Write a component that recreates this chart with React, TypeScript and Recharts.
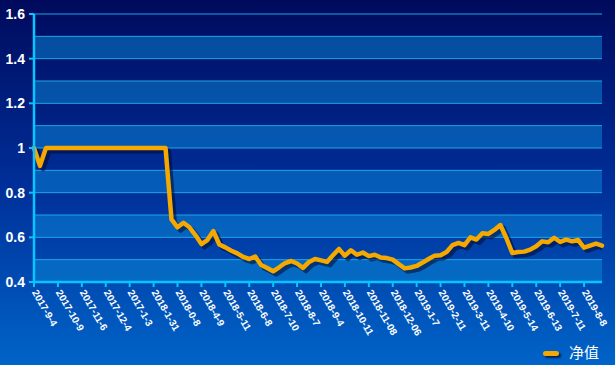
import { LineChart, Line, XAxis, YAxis, ReferenceLine, ReferenceArea } from 'recharts';

// tick labels as printed on the original chart (typos kept)
const dateLabels = [
  '2017-9-4', '2017-10-9', '2017-11-6', '2017-12-4', '2017-1-3', '2018-1-31',
  '2018-0-8', '2018-4-9', '2018-5-11', '2018-6-8', '2018-7-10', '2018-8-7',
  '2018-9-4', '2018-10-11', '2018-11-08', '2018-12-06', '2019-1-7', '2019-2-11',
  '2019-3-11', '2019-4-10', '2019-5-14', '2019-6-13', '2019-7-11', '2019-8-8',
];

// net value, one reading every ~quarter of a label interval
const netValues = [
  1.0, 0.92, 1.0, 1.0, 1.0, 1.0, 1.0, 1.0, 1.0, 1.0,
  1.0, 1.0, 1.0, 1.0, 1.0, 1.0, 1.0, 1.0, 1.0, 1.0,
  1.0, 1.0, 1.0, 0.68, 0.645, 0.665, 0.645, 0.61, 0.57, 0.588,
  0.628, 0.568, 0.555, 0.54, 0.528, 0.512, 0.503, 0.514, 0.476, 0.463,
  0.448, 0.466, 0.485, 0.494, 0.483, 0.463, 0.49, 0.503, 0.497, 0.49,
  0.52, 0.548, 0.518, 0.542, 0.522, 0.532, 0.516, 0.522, 0.51, 0.507,
  0.5, 0.48, 0.461, 0.465, 0.472, 0.487, 0.503, 0.518, 0.52, 0.534,
  0.565, 0.575, 0.565, 0.6, 0.59, 0.618, 0.615, 0.633, 0.655, 0.597,
  0.53, 0.534, 0.536, 0.545, 0.56, 0.582, 0.578, 0.598, 0.579, 0.59,
  0.582, 0.588, 0.554, 0.563, 0.572, 0.563,
];

const yTicks = [0.4, 0.6, 0.8, 1.0, 1.2, 1.4, 1.6];
const gridValues = [0.5, 0.6, 0.7, 0.8, 0.9, 1.0, 1.1, 1.2, 1.3, 1.4, 1.5, 1.6];
const lightBands = [[0.4, 0.5], [0.6, 0.7], [0.8, 0.9], [1.0, 1.1], [1.2, 1.3], [1.4, 1.5]];

const POINTS_PER_LABEL = 4;
const xTicks = dateLabels.map((_, i) => i * POINTS_PER_LABEL);
const X_MAX = netValues.length - 1;

const data = netValues.map((v, i) => ({ idx: i, value: v }));

// the shadow copy is drawn on hidden axes shifted by ~3px right/down
const SHADOW_DX = 0.5; // in index units (~3px)
const SHADOW_DY = 0.013; // in value units (~3px)

const CYAN = '#08c4ff';
const GRID = '#1ea6e6';
const ORANGE = '#f4a800';

function DateTick(props: any) {
  const { x, y, payload } = props;
  const label = dateLabels[Math.round(payload.value / POINTS_PER_LABEL)];
  return (
    <text
      x={x}
      y={y}
      transform={`rotate(60 ${x} ${y})`}
      fill="#ffffff"
      fontSize={10}
      fontWeight="bold"
      fontFamily="'Liberation Sans', Arial, sans-serif"
      textAnchor="start"
      dominantBaseline="middle"
    >
      {label}
    </text>
  );
}

export default function App() {
  return (
    <div
      style={{
        position: 'absolute',
        left: 0,
        top: 0,
        width: 615,
        height: 365,
        overflow: 'hidden',
        background: 'linear-gradient(to bottom, #000a5c 0%, #002e98 50%, #0064c8 100%)',
      }}
    >
      <LineChart width={615} height={365} data={data} margin={{ top: 14, right: 13, left: 0, bottom: 0 }}>
        {lightBands.map(([y1, y2]) => (
          <ReferenceArea key={y1} y1={y1} y2={y2} fill="#0a8ad8" fillOpacity={0.5} stroke="none" ifOverflow="visible" />
        ))}
        {gridValues.map((v) => (
          <ReferenceLine key={v} y={v} stroke={GRID} strokeWidth={1} ifOverflow="visible" />
        ))}
        <XAxis
          dataKey="idx"
          type="number"
          domain={[0, X_MAX]}
          ticks={xTicks}
          interval={0}
          height={83}
          axisLine={{ stroke: CYAN, strokeWidth: 2.5 }}
          tickLine={{ stroke: CYAN, strokeWidth: 2 }}
          tickSize={5}
          tickMargin={4}
          tick={<DateTick />}
        />
        <XAxis
          xAxisId="shadow"
          dataKey="idx"
          type="number"
          domain={[-SHADOW_DX, X_MAX - SHADOW_DX]}
          allowDataOverflow
          hide
        />
        <YAxis
          domain={[0.4, 1.6]}
          ticks={yTicks}
          interval={0}
          width={34}
          axisLine={{ stroke: CYAN, strokeWidth: 2.5 }}
          tickLine={{ stroke: CYAN, strokeWidth: 2 }}
          tickSize={5}
          tickMargin={4}
          tickFormatter={(v: number) => String(Math.round(v * 10) / 10)}
          tick={{ fill: '#ffffff', fontSize: 14, fontWeight: 'bold', fontFamily: "'Liberation Sans', Arial, sans-serif" }}
        />
        <YAxis yAxisId="shadow" domain={[0.4 + SHADOW_DY, 1.6 + SHADOW_DY]} allowDataOverflow hide />
        <Line
          xAxisId="shadow"
          yAxisId="shadow"
          type="linear"
          dataKey="value"
          stroke="#000a30"
          strokeOpacity={0.55}
          strokeWidth={5}
          strokeLinejoin="round"
          strokeLinecap="round"
          dot={false}
          activeDot={false}
          isAnimationActive={false}
        />
        <Line
          type="linear"
          dataKey="value"
          stroke={ORANGE}
          strokeWidth={4.5}
          strokeLinejoin="round"
          strokeLinecap="round"
          dot={false}
          activeDot={false}
          isAnimationActive={false}
        />
      </LineChart>
      <div
        style={{
          position: 'absolute',
          left: 543,
          top: 351,
          width: 16,
          height: 5,
          borderRadius: 3,
          background: ORANGE,
          boxShadow: '2px 2px 2px rgba(0,8,40,0.7)',
        }}
      />
      <div
        style={{
          position: 'absolute',
          left: 569,
          top: 343,
          fontSize: 15,
          lineHeight: '18px',
          color: '#ffffff',
          fontFamily: "'Noto Sans CJK SC', sans-serif",
        }}
      >
        净值
      </div>
    </div>
  );
}
